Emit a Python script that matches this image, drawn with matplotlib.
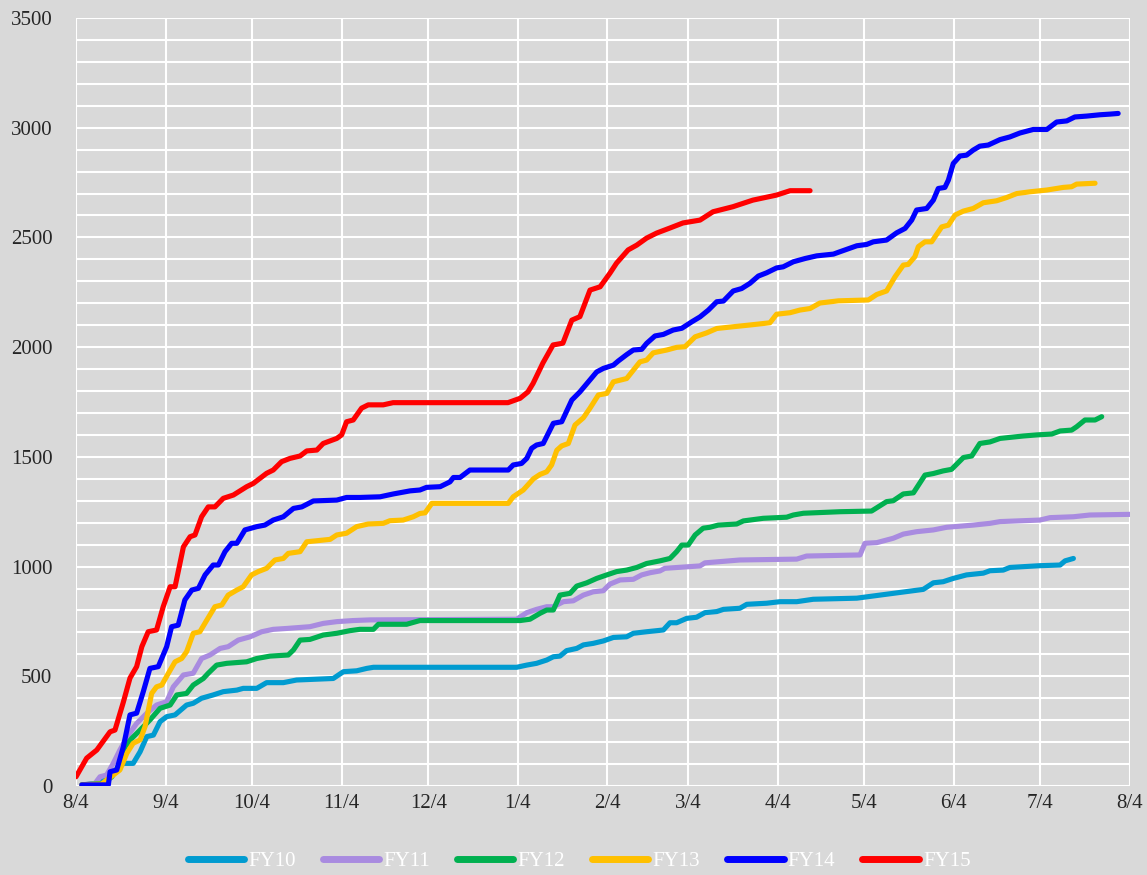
import matplotlib
matplotlib.use('Agg')
import matplotlib.pyplot as plt
from matplotlib.ticker import MultipleLocator

# days since 8/4, cumulative count
fy10 = [(2.0, 5), (8.3, 12), (12.9, 58), (16.4, 103), (19.8, 103), (22.2, 156), (24.5, 225), (26.8, 232),
        (29.1, 293), (31.4, 316), (34.3, 324), (38.3, 369), (40.6, 377), (43.5, 400), (47.5, 415), (51.0, 430),
        (55.7, 437), (57.9, 445), (62.6, 445), (66.0, 471), (71.8, 471), (76.4, 483), (89.1, 490), (92.6, 521),
        (97.2, 525), (100.7, 536), (103.0, 541), (152.6, 541), (156.1, 551), (159.5, 559), (163.0, 574),
        (165.3, 589), (167.6, 592), (169.9, 617), (173.4, 627), (175.7, 643), (179.1, 650), (182.6, 661),
        (186.1, 677), (190.7, 680), (193.0, 696), (197.6, 703), (203.4, 711), (205.7, 744), (208.0, 744),
        (211.5, 764), (214.9, 769), (217.8, 790), (221.9, 795), (224.2, 805), (229.9, 810), (232.3, 828),
        (239.2, 833), (243.8, 840), (249.6, 840), (255.3, 851), (270.4, 856), (278.4, 870), (283.0, 878),
        (293.4, 896), (296.9, 926), (300.3, 931), (303.8, 946), (308.4, 962), (314.2, 970), (316.5, 981),
        (321.1, 984), (323.4, 996), (333.8, 1004), (340.8, 1007), (342.5, 1026), (345.4, 1037)]

fy11 = [(2.0, 5), (6.6, 12), (8.3, 42), (10.6, 50), (12.9, 103), (15.2, 164), (18.1, 232), (21.0, 285),
        (24.5, 331), (27.9, 369), (31.4, 384), (33.7, 452), (37.2, 506), (40.6, 514), (43.5, 581), (46.4, 597),
        (49.9, 627), (52.7, 635), (56.2, 665), (60.3, 680), (64.3, 703), (68.3, 714), (73.0, 718), (81.0, 726),
        (85.6, 741), (90.3, 749), (96.0, 754), (101.8, 757), (152.6, 760), (156.1, 790), (159.5, 805),
        (163.0, 817), (165.3, 817), (168.8, 840), (172.2, 844), (175.7, 870), (179.1, 885), (182.6, 890),
        (184.9, 920), (188.4, 939), (193.0, 942), (195.9, 962), (198.8, 972), (202.2, 980), (203.9, 992),
        (216.1, 1003), (217.8, 1017), (229.9, 1030), (249.6, 1034), (253.0, 1048), (271.5, 1053),
        (273.2, 1106), (277.3, 1109), (283.0, 1129), (286.5, 1148), (291.1, 1159), (296.9, 1167),
        (301.5, 1179), (310.7, 1189), (316.5, 1197), (320.0, 1205), (333.8, 1212), (337.3, 1223),
        (345.4, 1227), (351.1, 1235), (365.0, 1238)]

fy12 = [(2.0, 5), (9.5, 12), (12.4, 42), (14.6, 88), (17.0, 179), (19.3, 217), (22.2, 255), (25.6, 301),
        (29.1, 354), (32.6, 369), (34.9, 415), (38.3, 422), (40.6, 460), (44.1, 490), (45.8, 514), (48.7, 551),
        (52.2, 559), (59.1, 566), (62.6, 581), (67.2, 592), (73.5, 597), (75.3, 620), (77.6, 665), (81.0, 668),
        (85.6, 688), (90.3, 696), (94.9, 708), (98.3, 714), (103.0, 714), (104.7, 737), (114.5, 737),
        (119.1, 754), (153.8, 754), (157.2, 760), (160.7, 787), (163.0, 802), (165.3, 802), (167.6, 870),
        (171.1, 878), (173.4, 911), (176.9, 926), (180.3, 946), (183.8, 962), (187.2, 977), (190.7, 984),
        (194.2, 996), (197.6, 1014), (202.2, 1026), (205.7, 1037), (208.0, 1068), (209.8, 1098), (212.0, 1098),
        (214.4, 1144), (217.2, 1175), (219.5, 1179), (222.4, 1189), (228.8, 1194), (231.1, 1208), (238.0, 1220),
        (246.1, 1225), (248.4, 1235), (251.9, 1243), (264.6, 1250), (275.5, 1253), (280.7, 1296), (283.0, 1300),
        (286.5, 1331), (290.0, 1336), (294.0, 1417), (296.9, 1424), (300.3, 1436), (303.2, 1443), (307.3, 1497),
        (310.2, 1504), (313.0, 1561), (316.5, 1568), (320.0, 1584), (328.0, 1595), (332.7, 1600), (337.9, 1604),
        (340.8, 1618), (344.8, 1622), (346.5, 1637), (349.4, 1668), (352.9, 1668), (355.2, 1683)]

fy13 = [(2.0, 5), (8.9, 9), (10.6, 27), (12.9, 50), (15.2, 73), (17.6, 149), (19.8, 195), (22.2, 210),
        (23.9, 270), (26.2, 422), (27.9, 452), (29.7, 460), (32.0, 514), (34.3, 566), (36.6, 581), (38.3, 612),
        (40.6, 696), (42.9, 703), (45.3, 756), (48.1, 817), (50.5, 825), (52.7, 870), (55.7, 893), (57.9, 908),
        (60.8, 962), (63.1, 977), (66.0, 992), (68.9, 1030), (71.8, 1037), (73.5, 1060), (77.6, 1068),
        (79.9, 1113), (88.0, 1124), (90.3, 1144), (93.7, 1152), (97.2, 1182), (101.2, 1194), (106.4, 1197),
        (108.7, 1209), (113.3, 1212), (116.8, 1227), (119.1, 1242), (120.9, 1245), (123.2, 1288), (149.7, 1288),
        (151.4, 1318), (154.9, 1349), (158.4, 1400), (160.7, 1420), (163.0, 1432), (164.7, 1463), (166.5, 1530),
        (168.2, 1550), (170.5, 1561), (172.8, 1645), (175.7, 1678), (178.0, 1722), (180.9, 1782), (183.8, 1789),
        (186.1, 1842), (190.7, 1857), (195.3, 1933), (197.6, 1941), (199.9, 1974), (204.6, 1987), (208.0, 1999),
        (210.9, 2002), (214.4, 2047), (218.4, 2065), (221.9, 2085), (227.6, 2093), (233.4, 2101), (240.3, 2111),
        (242.6, 2150), (247.3, 2157), (250.7, 2169), (254.2, 2176), (257.6, 2201), (264.0, 2211), (274.4, 2215),
        (277.3, 2240), (280.7, 2256), (283.6, 2320), (286.5, 2374), (288.2, 2377), (290.5, 2412), (291.7, 2458),
        (294.0, 2480), (296.3, 2480), (299.8, 2548), (302.1, 2556), (304.4, 2602), (307.3, 2620), (310.7, 2632),
        (314.2, 2658), (318.8, 2667), (322.3, 2682), (325.8, 2700), (330.4, 2708), (336.2, 2716), (341.9, 2728),
        (344.8, 2731), (346.5, 2743), (352.9, 2747)]

fy14 = [(2.0, 5), (11.2, 5), (11.8, 65), (14.1, 73), (16.4, 179), (18.7, 324), (21.0, 332), (23.3, 430),
        (25.6, 536), (28.5, 544), (31.4, 635), (33.1, 726), (35.4, 733), (37.7, 848), (40.1, 893), (42.4, 901),
        (44.7, 962), (47.5, 1007), (49.3, 1007), (51.6, 1068), (53.9, 1106), (55.7, 1106), (58.5, 1167),
        (62.6, 1182), (65.4, 1189), (68.3, 1212), (71.8, 1227), (75.3, 1265), (78.2, 1272), (82.2, 1299),
        (90.3, 1303), (93.7, 1315), (98.3, 1315), (105.3, 1318), (109.9, 1331), (115.7, 1345), (119.1, 1349),
        (121.4, 1361), (126.1, 1364), (129.5, 1386), (130.7, 1406), (133.0, 1406), (136.4, 1440), (149.7, 1440),
        (151.4, 1463), (154.3, 1470), (156.1, 1493), (157.8, 1539), (159.5, 1554), (161.8, 1561), (165.3, 1653),
        (168.2, 1660), (171.7, 1759), (174.5, 1796), (180.3, 1887), (182.6, 1903), (186.1, 1918), (187.8, 1937),
        (190.7, 1966), (193.0, 1987), (195.9, 1990), (197.6, 2017), (200.5, 2051), (203.4, 2058), (206.8, 2078),
        (209.8, 2086), (213.2, 2115), (216.1, 2138), (219.0, 2169), (221.9, 2207), (224.2, 2210), (227.6, 2256),
        (230.5, 2267), (233.4, 2291), (236.3, 2324), (239.2, 2339), (242.6, 2361), (244.9, 2366), (248.4, 2389),
        (252.5, 2404), (256.5, 2416), (262.3, 2424), (264.6, 2435), (270.4, 2462), (273.8, 2468), (276.1, 2480),
        (280.7, 2488), (284.2, 2521), (287.1, 2541), (289.4, 2579), (291.1, 2625), (294.6, 2632), (296.9, 2670),
        (298.6, 2723), (300.9, 2728), (302.1, 2761), (303.8, 2837), (306.1, 2871), (308.4, 2875), (310.7, 2898),
        (313.0, 2916), (315.9, 2921), (320.0, 2946), (323.4, 2958), (326.9, 2976), (331.5, 2992), (336.2, 2992),
        (339.6, 3026), (343.1, 3031), (345.9, 3049), (350.0, 3053), (354.6, 3059), (358.1, 3062), (360.9, 3065)]

fy15 = [(0.0, 42), (3.7, 127), (7.2, 164), (11.8, 247), (13.5, 255), (16.3, 378), (18.7, 492), (21.0, 544),
        (22.8, 635), (25.0, 703), (27.9, 711), (30.2, 817), (32.6, 908), (34.3, 908), (37.2, 1090), (39.5, 1136),
        (41.2, 1144), (43.5, 1227), (45.8, 1272), (48.1, 1272), (51.0, 1311), (54.5, 1326), (59.1, 1364),
        (61.4, 1379), (66.0, 1425), (68.3, 1440), (71.2, 1478), (74.1, 1493), (77.6, 1504), (79.9, 1527),
        (83.4, 1531), (85.6, 1561), (90.3, 1584), (92.0, 1600), (93.7, 1660), (96.0, 1668), (98.9, 1722),
        (101.2, 1737), (106.4, 1737), (109.8, 1747), (149.6, 1747), (153.8, 1767), (156.5, 1796), (158.3, 1835),
        (161.7, 1928), (165.2, 2010), (168.6, 2018), (171.7, 2123), (174.5, 2139), (178.0, 2260), (181.5, 2275),
        (184.9, 2337), (187.2, 2383), (191.2, 2443), (194.2, 2465), (197.6, 2497), (201.1, 2520), (205.7, 2543),
        (210.2, 2566), (216.1, 2579), (220.6, 2617), (227.5, 2640), (234.4, 2670), (242.6, 2693), (247.3, 2713),
        (254.2, 2713)]

series_names = ['FY10', 'FY11', 'FY12', 'FY13', 'FY14', 'FY15']
series_colors = ['#009BD0', '#A98BE0', '#00B050', '#FFC000', '#0000FF', '#FF0000']

month_days = [0, 31, 61, 92, 122, 153, 184, 212, 243, 273, 304, 334, 365]
month_labels = ['8/4', '9/4', '10/4', '11/4', '12/4', '1/4', '2/4', '3/4', '4/4', '5/4', '6/4', '7/4', '8/4']

plt.rcParams['font.family'] = ['Liberation Serif', 'DejaVu Serif']

bg = '#D9D9D9'
fig = plt.figure(figsize=(11.47, 8.75), dpi=100, facecolor=bg)
ax = fig.add_axes([76 / 1147, 1 - 786 / 875, (1130 - 76) / 1147, (786 - 18) / 875])
ax.set_facecolor(bg)

for data, name, color in zip([fy10, fy11, fy12, fy13, fy14, fy15], series_names, series_colors):
    xs = [d for d, v in data]
    ys = [v for d, v in data]
    ax.plot(xs, ys, color=color, lw=3.7, label=name, solid_capstyle='round', solid_joinstyle='round')

ax.set_xlim(0, 365)
ax.set_ylim(0, 3500)
ax.set_xticks(month_days)
ax.set_xticklabels(month_labels)
ax.yaxis.set_major_locator(MultipleLocator(500))
ax.yaxis.set_minor_locator(MultipleLocator(100))
ax.grid(True, which='both', color='white', lw=1.5)
ax.set_axisbelow(True)
for s in ax.spines.values():
    s.set_visible(False)
ax.tick_params(which='both', length=0, labelsize=15, labelcolor='#262626')
ax.tick_params(axis='y', pad=17)
ax.tick_params(axis='x', pad=6)

leg = fig.legend(loc='center', bbox_to_anchor=(0.505, 0.016), ncol=6, frameon=False, fontsize=15,
                 handlelength=2.7, handletextpad=0.2, columnspacing=1.3)
for t in leg.get_texts():
    t.set_color('white')
for h in leg.get_lines():
    h.set_linewidth(5)

fig.savefig('out.png', dpi=100, facecolor=bg)
